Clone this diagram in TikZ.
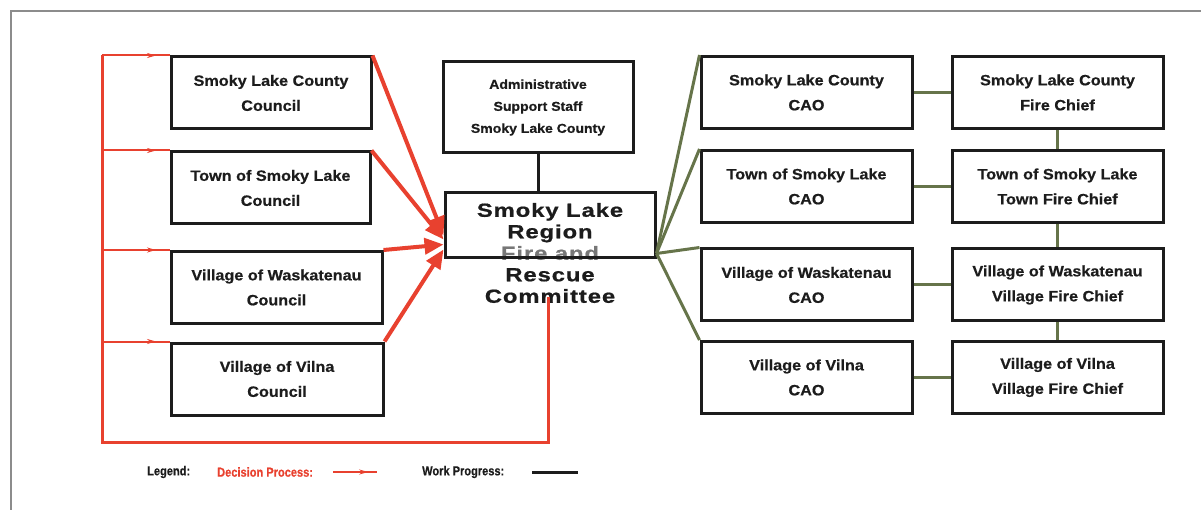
\documentclass[tikz,border=0pt]{standalone}
\usepackage{fontspec}
\setmainfont{Liberation Sans}
\newfontfamily\boxfont{Liberation Sans}[FakeStretch=1.08,FakeBold=0.6]
\newfontfamily\titlefont{Liberation Sans}[FakeStretch=1.25,LetterSpace=5,FakeBold=0.8]
\newfontfamily\legendfont{Liberation Sans}[FakeStretch=0.85,FakeBold=0.6]
\usepackage{tikz}
\usetikzlibrary{arrows.meta,positioning,calc,decorations.markings}
\usepackage{xcolor}
\definecolor{Decision}{HTML}{E8412F}
\definecolor{Work}{HTML}{66744A}
\definecolor{Frame}{HTML}{8C8C8C}
\definecolor{Ink}{HTML}{1C1C1C}

\begin{document}
\begin{tikzpicture}[
        %Environment Cfg.
        x=1pt, y=-1pt,
        line join=miter,
        %Environment Styles.
        oBox/.style={
            rectangle,
            draw=Ink,
            line width=3pt,
            minimum height=72pt,
            minimum width=211pt,
            inner sep=0pt,
            align=center,
            text=Ink,
            font=\boxfont\bfseries\fontsize{15}{25}\selectfont
            % fill=white,
        },
        decision/.style={Decision, line width=3pt},
        feed/.style={
            Decision, line width=2pt,
            postaction={decorate},
            decoration={markings,
                mark=at position 0.8 with {\arrow{Stealth[length=9pt,width=5pt]}}}
        },
        vote/.style={Decision, line width=4pt, -{Triangle[length=19pt,width=16pt]}},
        work/.style={Work, line width=3pt},
        legend/.style={anchor=west, inner sep=0pt, text=Ink,
            font=\legendfont\bfseries\fontsize{13}{15}\selectfont},
    ]
    \useasboundingbox (0,0) rectangle (1201,510);
    \draw[Frame, line width=1.5pt] (1201,11) -- (11,11) -- (11,510);

    %Councils on the left
    \node[oBox, minimum width=200pt] (LC-1) at (271,93) {Smoky Lake County\\Council};
    \node[oBox, minimum width=199pt] (LC-2) at (270.5,188) {Town of Smoky Lake\\Council};
    \node[oBox] (LC-3) at (276.5,287.5) {Village of Waskatenau\\Council};
    \node[oBox, minimum width=212pt] (LC-4) at (277,379) {Village of Vilna\\Council};

    %Committee and its support staff
    \node[oBox, minimum width=190pt, minimum height=91pt,
          font=\boxfont\bfseries\fontsize{13}{22}\selectfont]
          (ADMIN) at (538,107.5) {Administrative\\Support Staff\\Smoky Lake County};
    \node[align=center, text=Ink, font=\titlefont\bfseries\fontsize{19}{21.5}\selectfont]
          (COMM-txt) at (550,253) {Smoky Lake\\Region\\{\color{Ink!60}Fire and}\\Rescue\\Committee};
    \node[oBox, minimum width=210pt, minimum height=65pt] (COMM) at (550,225.5) {};
    \draw[Ink, line width=3pt] (ADMIN.south) -- (ADMIN.south |- COMM.north);

    %Decision process: councils up to the committee, and back round
    \draw[vote] (LC-1.north east) -- ($(COMM.west)+(0,10)$);
    \draw[vote] (LC-2.north east) -- ($(COMM.west)+(0,14)$);
    \draw[vote] (LC-3.north east) -- ($(COMM.west)+(0,19)$);
    \draw[vote] (LC-4.north east) -- ($(COMM.west)+(0,24)$);
    \coordinate (RET) at (548,297);
    \coordinate (RAIL) at (102,442);
    \draw[decision] (RET) |- (RAIL) -- (RAIL |- LC-1.north west);
    \foreach \i in {1,...,4}
        \draw[feed] (RAIL |- LC-\i.north west) -- (LC-\i.north west);

    %Work progress: one row per municipality, CAO then fire chief
    %\Row[row][y]{municipality}{chief title}
    \coordinate (HUB) at ($(COMM.south east)+(0,-6)$);
    \def\Row[#1][#2]#3#4{
        \node[oBox] (CAO-#1) at (806.5,#2) {#3\\CAO};
        \node[oBox] (CHIEF-#1) at (1057.5,#2) {#3\\#4};
        \draw[work] (CAO-#1) -- (CHIEF-#1);
        \draw[work] (HUB) -- (CAO-#1.north west);
    }
    \Row[1][92.5]{Smoky Lake County}{Fire Chief};
    \Row[2][186.5]{Town of Smoky Lake}{Town Fire Chief};
    \Row[3][285]{Village of Waskatenau}{Village Fire Chief};
    \Row[4][377.5]{Village of Vilna}{Village Fire Chief};
    \draw[work] (CHIEF-1) -- (CHIEF-2);
    \draw[work] (CHIEF-2) -- (CHIEF-3);
    \draw[work] (CHIEF-3) -- (CHIEF-4);

    %Legend
    \node[legend] (LEG) at (147,472) {Legend:};
    \node[legend, text=Decision] (LEG-DP) at (217,472) {Decision Process:};
    \coordinate (LEG-DP-a) at (333,472);
    \coordinate (LEG-DP-b) at (377,472);
    \draw[feed] (LEG-DP-a) -- (LEG-DP-b);
    \node[legend] (LEG-WP) at (422,472) {Work Progress:};
    \coordinate (LEG-WP-a) at (532,472);
    \coordinate (LEG-WP-b) at (578,472);
    \draw[Ink, line width=3pt] (LEG-WP-a) -- (LEG-WP-b);

\end{tikzpicture}
\end{document}
